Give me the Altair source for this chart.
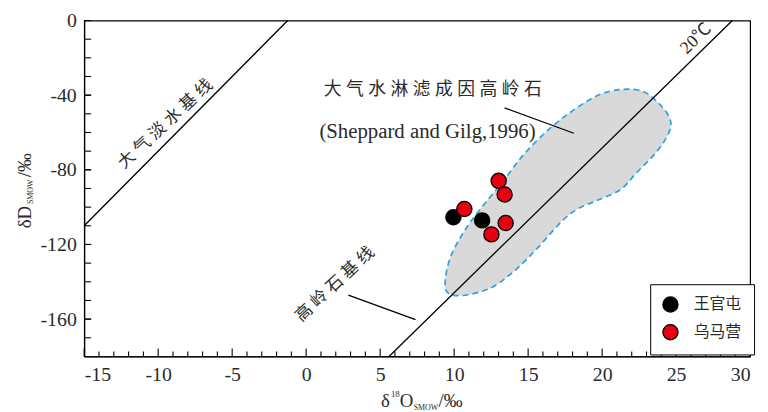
import altair as alt
import pandas as pd

# ---------------- data ----------------
x_major = [-15, -10, -5, 0, 5, 10, 15, 20, 25, 30]
x_minor = [v for v in range(-14, 30) if v % 5 != 0]
y_major = [0, -40, -80, -120, -160]
y_minor = list(range(-170, 0, 10))

# meteoric water line and kaolinite (20 °C) line end points
mwl_x = [-15, -1.25]
mwl_y = [-110, 0]
kl_x = [5.6, 28.8]
kl_y = [-180, 0]

# kaolinite field (Sheppard and Gilg, 1996)
poly_x = [21.43, 22.77, 23.74, 24.55, 24.55, 23.74, 22.30, 21.23, 19.63, 18.29, 17.22, 15.61,
          14.08, 12.54, 10.74, 9.60, 9.40, 9.73, 10.53, 11.60, 13.21, 14.75, 16.55, 18.29, 19.89]
poly_y = [-36.9, -38.0, -43.7, -52.0, -59.3, -69.8, -81.8, -90.7, -96.5, -101.2, -108.0, -122.1,
          -134.1, -143.0, -147.2, -146.1, -139.3, -127.3, -114.8, -102.7, -87.1, -71.4, -57.3, -46.8, -39.5]

series_names = ["王官屯", "乌马营"]
series_colors = ["#000000", "#e60012"]
wgt_x = [9.95, 11.89]
wgt_y = [-105.4, -107.1]
wmy_x = [10.69, 13.01, 13.41, 13.48, 12.52]
wmy_y = [-101.0, -85.9, -93.2, -108.5, -114.6]

# leader lines
lead_x = [13.41, 2.85]
lead_y = [-46.8, -147.2]
lead_x2 = [18.09, 7.39]
lead_y2 = [-60.4, -160.3]

# annotations
ann_text = ["大 气 水 淋 滤 成 因 高 岭 石", "(Sheppard and Gilg,1996)",
            "大 气 淡 水 基 线", "高 岭 石 基 线", "20℃"]
ann_x = [8.56, 8.2, -9.5, 1.95, 26.35]
ann_y = [-37.4, -59.9, -55.5, -141.4, -9.8]

W, H = 673, 339.5
SERIF = "Liberation Serif"
CJK = "Liberation Serif, Noto Sans CJK SC"
TXT = "#2a2a2a"

xs = alt.Scale(domain=[-15, 30], nice=False, zero=False)
ys = alt.Scale(domain=[-180, 0], nice=False, zero=False)

axis_common = dict(labelFont=SERIF, labelFontSize=20, labelColor=TXT,
                   labelExpr="toString(datum.value)", labelPadding=8,
                   ticks=False, grid=False, domainColor="black", domainWidth=1.2, title=None)

# ---------------- layers ----------------
poly_df = pd.DataFrame({"x": poly_x, "y": poly_y, "i": list(range(len(poly_x)))})
poly = alt.Chart(poly_df).mark_line(
    interpolate="cardinal-closed", fill="#d9d9d9", stroke="#2ba3dd",
    strokeDash=[6, 4], strokeWidth=1.7
).encode(
    x=alt.X("x:Q", scale=xs, axis=alt.Axis(values=x_major, **axis_common)),
    y=alt.Y("y:Q", scale=ys, axis=alt.Axis(values=y_major, **axis_common)),
    order="i:O",
)

lines_df = pd.DataFrame({
    "x": mwl_x + kl_x,
    "y": mwl_y + kl_y,
    "g": ["mwl"] * len(mwl_x) + ["kl"] * len(kl_x),
})
lines = alt.Chart(lines_df).mark_line(color="black", strokeWidth=1.3).encode(
    x=alt.X("x:Q", scale=xs), y=alt.Y("y:Q", scale=ys), detail="g:N"
)

lead_df = pd.DataFrame({"x": lead_x, "y": lead_y, "x2": lead_x2, "y2": lead_y2})
leads = alt.Chart(lead_df).mark_rule(color="black", strokeWidth=1.3).encode(
    x=alt.X("x:Q", scale=xs), y=alt.Y("y:Q", scale=ys), x2="x2:Q", y2="y2:Q"
)

xmaj_df = pd.DataFrame({"v": x_major})
xmin_df = pd.DataFrame({"v": x_minor})
ytk_df = pd.DataFrame({"v": y_major + y_minor})
tick_style = dict(color="black", strokeWidth=1.1)
xmaj_t = alt.Chart(xmaj_df).mark_rule(**tick_style).encode(
    x=alt.X("v:Q", scale=xs), y=alt.value(H), y2=alt.value(H - 8))
xmin_t = alt.Chart(xmin_df).mark_rule(**tick_style).encode(
    x=alt.X("v:Q", scale=xs), y=alt.value(H), y2=alt.value(H - 5))
y_t = alt.Chart(ytk_df).mark_rule(**tick_style).encode(
    y=alt.Y("v:Q", scale=ys), x=alt.value(0), x2=alt.value(7))

pts_df = pd.DataFrame({
    "x": wgt_x + wmy_x,
    "y": wgt_y + wmy_y,
    "s": [series_names[0]] * len(wgt_x) + [series_names[1]] * len(wmy_x),
})
pts = alt.Chart(pts_df).mark_circle(size=235, stroke="black", strokeWidth=1.3, opacity=1).encode(
    x=alt.X("x:Q", scale=xs), y=alt.Y("y:Q", scale=ys),
    color=alt.Color("s:N", scale=alt.Scale(domain=series_names, range=series_colors),
                    legend=alt.Legend(
                        orient="none", legendX=572, legendY=266.5, title=None,
                        strokeColor="black", fillColor="white", padding=12,
                        symbolSize=235, symbolType="circle", symbolStrokeColor="black",
                        symbolStrokeWidth=1.3, symbolOpacity=1,
                        labelFont=CJK, labelFontSize=16, labelColor=TXT,
                        labelOffset=15, rowPadding=7)),
)


def ann(i, size, font, angle=0):
    df = pd.DataFrame({"x": [ann_x[i]], "y": [ann_y[i]], "t": [ann_text[i]]})
    kw = dict(font=font, fontSize=size, color=TXT, align="center", baseline="middle")
    if angle:
        kw["angle"] = angle
    return alt.Chart(df).mark_text(**kw).encode(
        x=alt.X("x:Q", scale=xs), y=alt.Y("y:Q", scale=ys), text="t:N")


anns = [
    ann(0, 18, CJK),
    ann(1, 21, SERIF),
    ann(2, 17, CJK, 317),
    ann(3, 17, CJK, 317),
    ann(4, 18, CJK, 316),
]

one = pd.DataFrame({"a": [0]})


def piece(txt, x, y, size, angle=0):
    kw = dict(text=txt, font=SERIF, fontSize=size, color=TXT, align="left", baseline="alphabetic")
    if angle:
        kw["angle"] = angle
    return alt.Chart(one).mark_text(**kw).encode(x=alt.value(x), y=alt.value(y))


# plot origin is at page (85, 18.5)
titles = [
    # x title
    piece("δ", 300, 390.5, 19),
    piece("18", 310, 380.5, 9),
    piece("O", 319, 390.5, 19),
    piece("SMOW", 333, 393.5, 8),
    piece("/‰", 358, 390.5, 19),
    # y title
    piece("δD", -54, 210, 19, 270),
    piece("SMOW", -52, 185.5, 8, 270),
    piece("/‰", -54, 158.5, 19, 270),
]

chart = alt.layer(
    poly, lines, leads, xmaj_t, xmin_t, y_t, pts, *anns, *titles
).properties(
    width=W, height=H,
    autosize=alt.AutoSizeParams(type="none"),
    padding={"left": 77, "top": 10.5, "right": 10, "bottom": 54},
).configure_view(
    stroke="black", strokeWidth=1.2
).configure_axis(
    grid=False, ticks=False, domainColor="black",
    labelFont=SERIF, labelFontSize=20, labelColor=TXT,
)

chart.save("out.html", embed_options={"renderer": "svg", "actions": False})
